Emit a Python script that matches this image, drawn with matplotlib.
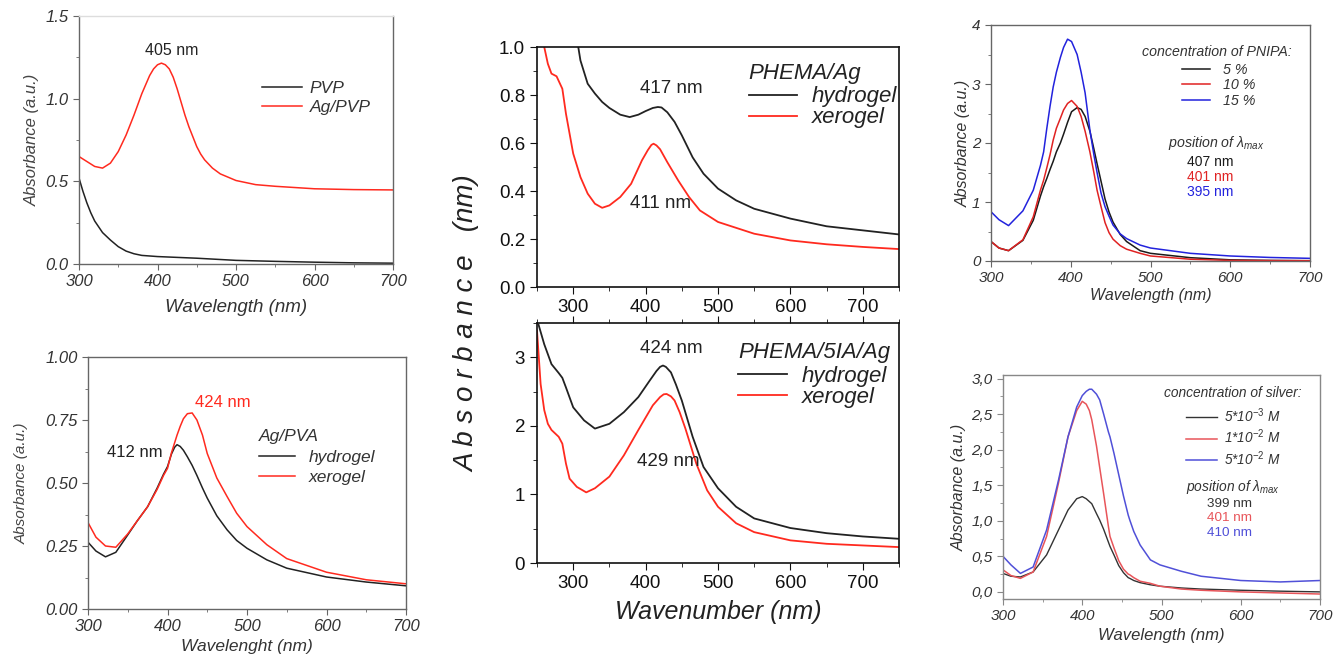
import numpy as np
import matplotlib
matplotlib.use("Agg")
import matplotlib.pyplot as plt
from matplotlib.ticker import MultipleLocator, FuncFormatter

plt.rcParams['font.family'] = ['Liberation Sans', 'DejaVu Sans']
plt.rcParams['mathtext.fontset'] = 'custom'
plt.rcParams['mathtext.it'] = 'Liberation Sans:italic'
plt.rcParams['mathtext.rm'] = 'Liberation Sans'

# ---------------- Panel A: PVP / Ag-PVP ----------------
pvp_wl = [300, 305, 310, 315, 320, 330, 340, 350, 360, 370, 380, 400, 425, 450, 500, 550, 600, 650, 700]
pvp_abs = [0.52, 0.44, 0.37, 0.31, 0.26, 0.19, 0.145, 0.105, 0.078, 0.062, 0.052, 0.045, 0.04, 0.035, 0.022, 0.016, 0.011, 0.007, 0.005]
agpvp_wl = [300, 310, 320, 330, 340, 350, 360, 370, 380, 390, 395, 400, 405, 410, 415, 420, 425, 430, 435, 440, 445, 450, 455, 460, 470, 480, 500, 525, 550, 600, 650, 700]
agpvp_abs = [0.65, 0.62, 0.59, 0.58, 0.61, 0.68, 0.78, 0.90, 1.03, 1.14, 1.18, 1.205, 1.215, 1.205, 1.18, 1.13, 1.06, 0.98, 0.90, 0.83, 0.77, 0.71, 0.665, 0.63, 0.58, 0.545, 0.505, 0.48, 0.47, 0.455, 0.45, 0.448]

# ---------------- Panel B: Ag/PVA ----------------
pva_wl = [300, 310, 322, 335, 350, 362, 375, 387, 395, 400, 405, 409, 412, 416, 420, 425, 431, 437, 444, 450, 462, 475, 487, 500, 525, 550, 600, 650, 700]
pva_hydro = [0.265, 0.23, 0.207, 0.225, 0.294, 0.35, 0.406, 0.48, 0.535, 0.565, 0.615, 0.642, 0.652, 0.645, 0.63, 0.604, 0.57, 0.53, 0.48, 0.44, 0.37, 0.314, 0.272, 0.241, 0.195, 0.162, 0.127, 0.107, 0.092]
pva_xero = [0.343, 0.285, 0.25, 0.245, 0.298, 0.35, 0.406, 0.475, 0.53, 0.558, 0.62, 0.66, 0.69, 0.725, 0.755, 0.775, 0.778, 0.75, 0.69, 0.617, 0.52, 0.446, 0.38, 0.327, 0.255, 0.2, 0.146, 0.116, 0.10]

# ---------------- Panel C: PNIPA ----------------
pn_wl = [300, 310, 322, 340, 353, 362, 366, 370, 374, 378, 382, 387, 391, 396, 401, 408, 413, 418, 424, 429, 433, 438, 443, 448, 453, 462, 470, 487, 500, 550, 600, 650, 700]
pn_5 = [0.33, 0.22, 0.175, 0.35, 0.69, 1.1, 1.26, 1.4, 1.55, 1.69, 1.85, 2.0, 2.15, 2.35, 2.53, 2.6, 2.57, 2.45, 2.2, 1.9, 1.65, 1.35, 1.05, 0.83, 0.66, 0.45, 0.33, 0.175, 0.13, 0.056, 0.02, 0.01, 0.005]
pn_10 = [0.33, 0.22, 0.175, 0.36, 0.75, 1.2, 1.37, 1.58, 1.8, 2.05, 2.25, 2.42, 2.56, 2.67, 2.72, 2.62, 2.45, 2.2, 1.85, 1.5, 1.2, 0.92, 0.65, 0.48, 0.37, 0.26, 0.2, 0.13, 0.085, 0.03, 0.01, 0.007, 0.005]
pn_15 = [0.835, 0.7, 0.6, 0.85, 1.2, 1.62, 1.85, 2.25, 2.62, 2.95, 3.2, 3.45, 3.62, 3.76, 3.72, 3.5, 3.2, 2.85, 2.22, 1.8, 1.5, 1.15, 0.92, 0.76, 0.61, 0.46, 0.38, 0.27, 0.22, 0.13, 0.085, 0.06, 0.045]

# ---------------- Panel D: silver concentration ----------------
ag_wl = [300, 310, 322, 338, 355, 370, 382, 393, 400, 405, 409, 412, 418, 422, 427, 433, 435, 440, 446, 452, 458, 460, 465, 473, 486, 498, 525, 550, 600, 650, 700]
ag_5e3 = [0.26, 0.22, 0.21, 0.28, 0.52, 0.87, 1.15, 1.31, 1.34, 1.31, 1.27, 1.24, 1.1, 1.01, 0.88, 0.7, 0.64, 0.52, 0.37, 0.27, 0.2, 0.19, 0.16, 0.13, 0.1, 0.08, 0.055, 0.04, 0.023, 0.01, 0.0]
ag_1e2 = [0.31, 0.23, 0.19, 0.28, 0.78, 1.53, 2.18, 2.55, 2.68, 2.64, 2.55, 2.42, 2.05, 1.75, 1.38, 0.92, 0.78, 0.62, 0.44, 0.32, 0.25, 0.24, 0.2, 0.15, 0.12, 0.08, 0.04, 0.023, 0.0, -0.015, -0.03]
ag_5e2 = [0.5, 0.38, 0.26, 0.35, 0.87, 1.57, 2.18, 2.6, 2.76, 2.82, 2.85, 2.85, 2.78, 2.7, 2.5, 2.25, 2.18, 1.95, 1.65, 1.35, 1.08, 1.01, 0.85, 0.66, 0.45, 0.38, 0.29, 0.22, 0.16, 0.14, 0.16]

# ---------------- Panel E: PHEMA/Ag ----------------
ph_wl_h = [307, 310, 320, 330, 340, 350, 365, 378, 390, 400, 410, 417, 422, 430, 440, 450, 465, 480, 500, 525, 550, 600, 650, 700, 750]
ph_hydro = [1.0, 0.944, 0.847, 0.806, 0.771, 0.746, 0.718, 0.708, 0.718, 0.733, 0.746, 0.75, 0.748, 0.728, 0.688, 0.632, 0.54, 0.472, 0.41, 0.361, 0.326, 0.285, 0.253, 0.236, 0.219]
ph_wl_x = [260, 265, 270, 277, 285, 290, 300, 310, 320, 330, 340, 350, 365, 380, 395, 403, 408, 411, 415, 420, 430, 445, 460, 475, 500, 550, 600, 650, 700, 750]
ph_xero = [1.0, 0.93, 0.889, 0.878, 0.826, 0.722, 0.556, 0.458, 0.389, 0.347, 0.33, 0.34, 0.375, 0.43, 0.528, 0.57, 0.592, 0.597, 0.59, 0.574, 0.52, 0.444, 0.375, 0.319, 0.271, 0.222, 0.194, 0.178, 0.167, 0.158]

# ---------------- Panel F: PHEMA/5IA/Ag ----------------
pi_wl_h = [252, 260, 270, 280, 285, 290, 300, 315, 330, 350, 370, 390, 405, 415, 420, 424, 428, 435, 442, 450, 465, 480, 500, 525, 550, 600, 650, 700, 750]
pi_hydro = [3.48, 3.19, 2.9, 2.77, 2.7, 2.56, 2.27, 2.08, 1.96, 2.03, 2.2, 2.42, 2.65, 2.8, 2.86, 2.88, 2.86, 2.78, 2.6, 2.37, 1.84, 1.40, 1.09, 0.82, 0.65, 0.51, 0.435, 0.387, 0.353]
pi_wl_x = [250, 255, 260, 265, 270, 280, 285, 290, 295, 305, 318, 330, 350, 370, 390, 410, 420, 425, 429, 435, 440, 447, 455, 470, 485, 500, 525, 550, 600, 650, 700, 750]
pi_xero = [3.39, 2.61, 2.23, 2.03, 1.94, 1.84, 1.74, 1.45, 1.23, 1.11, 1.03, 1.09, 1.26, 1.57, 1.94, 2.30, 2.42, 2.46, 2.465, 2.43, 2.37, 2.2, 1.96, 1.45, 1.06, 0.82, 0.58, 0.45, 0.33, 0.28, 0.256, 0.232]

W, H = 1334, 658
fig = plt.figure(figsize=(W / 100, H / 100), dpi=100)


def ax_px(x0, y0, x1, y1):
    return fig.add_axes([x0 / W, 1 - y1 / H, (x1 - x0) / W, (y1 - y0) / H])


def style_side(ax, spine_col='#666666', lab_col='#333333', fs=11.5):
    for s in ax.spines.values():
        s.set_color(spine_col)
        s.set_linewidth(1.0)
    ax.tick_params(which='both', direction='out', colors=spine_col, labelcolor=lab_col,
                   labelsize=fs, top=False, right=False)
    ax.tick_params(which='major', length=4)
    ax.tick_params(which='minor', length=2.5)
    for lab in ax.get_xticklabels() + ax.get_yticklabels():
        lab.set_fontstyle('italic')


RED = '#ff2a1f'
BLK = '#222222'

# ===== Panel A =====
axA = ax_px(79, 16, 393, 264)
axA.plot(pvp_wl, pvp_abs, color=BLK, lw=1.1, label='PVP')
axA.plot(agpvp_wl, agpvp_abs, color=RED, lw=1.1, label='Ag/PVP')
axA.set_xlim(300, 700)
axA.set_ylim(0, 1.5)
axA.xaxis.set_major_locator(MultipleLocator(100))
axA.xaxis.set_minor_locator(MultipleLocator(50))
axA.yaxis.set_major_locator(MultipleLocator(0.5))
axA.yaxis.set_minor_locator(MultipleLocator(0.25))
axA.yaxis.set_major_formatter(FuncFormatter(lambda v, p: f"{v:.1f}"))
style_side(axA, fs=12)
axA.spines['top'].set_color('#dddddd')
axA.set_xlabel('Wavelength (nm)', fontstyle='italic', fontsize=13.5, color='#333333', labelpad=7)
axA.set_ylabel('Absorbance (a.u.)', fontstyle='italic', fontsize=12, color='#444444', labelpad=4)
axA.text(418, 1.29, '405 nm', ha='center', va='center', fontsize=11.5, color='#222222')
axA.legend(loc='upper left', bbox_to_anchor=(0.56, 0.765), frameon=False,
           prop={'style': 'italic', 'size': 12.5}, handlelength=2.3, labelspacing=0.2,
           handletextpad=0.45, borderaxespad=0, labelcolor='#333333')

# ===== Panel B =====
axB = ax_px(88, 357, 406, 609)
axB.plot(pva_wl, pva_hydro, color=BLK, lw=1.1, label='hydrogel')
axB.plot(pva_wl, pva_xero, color=RED, lw=1.1, label='xerogel')
axB.set_xlim(300, 700)
axB.set_ylim(0, 1.0)
axB.xaxis.set_major_locator(MultipleLocator(100))
axB.xaxis.set_minor_locator(MultipleLocator(50))
axB.yaxis.set_major_locator(MultipleLocator(0.25))
axB.yaxis.set_minor_locator(MultipleLocator(0.125))
axB.yaxis.set_major_formatter(FuncFormatter(lambda v, p: f"{v:.2f}"))
style_side(axB, fs=12)
axB.set_xlabel('Wavelenght (nm)', fontstyle='italic', fontsize=12.5, color='#333333', labelpad=3)
axB.set_ylabel('Absorbance (a.u.)', fontstyle='italic', fontsize=11, color='#444444', labelpad=12)
axB.text(469, 0.818, '424 nm', ha='center', va='center', fontsize=12, color=RED)
axB.text(359, 0.623, '412 nm', ha='center', va='center', fontsize=12, color='#222222')
legB = axB.legend(loc='upper left', bbox_to_anchor=(0.515, 0.74), frameon=False,
                  prop={'style': 'italic', 'size': 12.5}, handlelength=2.1, labelspacing=0.3,
                  handletextpad=0.8, borderaxespad=0, labelcolor='#333333',
                  title='Ag/PVA', title_fontproperties={'style': 'italic', 'size': 12.5})
legB._legend_box.align = 'left'
legB.get_title().set_color('#333333')

# ===== Panel C =====
axC = ax_px(991, 25, 1310, 261)
axC.plot(pn_wl, pn_5, color='#1a1a1a', lw=1.1, label='5 %')
axC.plot(pn_wl, pn_10, color='#e02222', lw=1.1, label='10 %')
axC.plot(pn_wl, pn_15, color='#2222dd', lw=1.1, label='15 %')
axC.set_xlim(300, 700)
axC.set_ylim(0, 4)
axC.xaxis.set_major_locator(MultipleLocator(100))
axC.xaxis.set_minor_locator(MultipleLocator(50))
axC.yaxis.set_major_locator(MultipleLocator(1))
axC.yaxis.set_minor_locator(MultipleLocator(0.5))
style_side(axC, fs=11)
axC.set_xlabel('Wavelength (nm)', fontstyle='italic', fontsize=11.5, color='#333333', labelpad=2)
axC.set_ylabel('Absorbance (a.u.)', fontstyle='italic', fontsize=11.5, color='#333333', labelpad=1)
tr = axC.transAxes
axC.text(0.943, 0.887, 'concentration of PNIPA:', transform=tr, ha='right', va='center',
         fontsize=10.2, fontstyle='italic', color='#333333')
axC.legend(loc='upper left', bbox_to_anchor=(0.58, 0.862), frameon=False,
           prop={'style': 'italic', 'size': 10.3}, handlelength=2.0, labelspacing=0.08,
           handletextpad=0.9, borderaxespad=0, labelcolor='#333333')
axC.text(0.554, 0.501, r'position of $\lambda_{max}$', transform=tr, ha='left', va='center',
         fontsize=10.2, fontstyle='italic', color='#333333')
for yy, t, c in [(0.421, '407 nm', '#1a1a1a'), (0.357, '401 nm', '#e02222'), (0.294, '395 nm', '#2222dd')]:
    axC.text(0.615, yy, t, transform=tr, ha='left', va='center', fontsize=10, color=c)

# ===== Panel D =====
axD = ax_px(1003, 375, 1320, 599)
axD.plot(ag_wl, ag_5e3, color='#333333', lw=1.0, label=r'5*10$^{-3}$ M')
axD.plot(ag_wl, ag_1e2, color='#e8555a', lw=1.1, label=r'1*10$^{-2}$ M')
axD.plot(ag_wl, ag_5e2, color='#5050d8', lw=1.1, label=r'5*10$^{-2}$ M')
axD.set_xlim(300, 700)
axD.set_ylim(-0.1, 3.05)
axD.xaxis.set_major_locator(MultipleLocator(100))
axD.xaxis.set_minor_locator(MultipleLocator(50))
axD.yaxis.set_major_locator(MultipleLocator(0.5))
axD.yaxis.set_minor_locator(MultipleLocator(0.25))
axD.yaxis.set_major_formatter(FuncFormatter(lambda v, p: f"{v:.1f}".replace('.', ',')))
style_side(axD, spine_col='#888888', lab_col='#333333', fs=11)
axD.set_xlabel('Wavelength (nm)', fontstyle='italic', fontsize=12, color='#333333', labelpad=3)
axD.set_ylabel('Absorbance (a.u.)', fontstyle='italic', fontsize=11.5, color='#333333', labelpad=3)
tr = axD.transAxes
axD.text(0.942, 0.918, 'concentration of silver:', transform=tr, ha='right', va='center',
         fontsize=9.9, fontstyle='italic', color='#333333')
axD.legend(loc='upper left', bbox_to_anchor=(0.56, 0.885), frameon=False,
           prop={'style': 'italic', 'size': 9.8}, handlelength=2.3, labelspacing=0.22,
           handletextpad=0.5, borderaxespad=0, labelcolor='#333333')
axD.text(0.577, 0.502, r'position of $\lambda_{max}$', transform=tr, ha='left', va='center',
         fontsize=9.9, fontstyle='italic', color='#333333')
for yy, t, c in [(0.425, '399 nm', '#333333'), (0.361, '401 nm', '#e8555a'), (0.294, '410 nm', '#5050d8')]:
    axD.text(0.642, yy, t, transform=tr, ha='left', va='center', fontsize=9.7, color=c)

# ===== Panel E & F (middle) =====
def style_mid(ax):
    for s in ax.spines.values():
        s.set_color('#111111')
        s.set_linewidth(1.2)
    ax.tick_params(which='both', direction='out', colors='#111111', labelsize=13.5, right=False)
    ax.tick_params(which='major', length=5)
    ax.tick_params(which='minor', length=3)
    ax.xaxis.set_major_locator(MultipleLocator(100))
    ax.xaxis.set_minor_locator(MultipleLocator(50))


axE = ax_px(537, 47, 899, 287)
axE.plot(ph_wl_h, ph_hydro, color=BLK, lw=1.3, label='hydrogel')
axE.plot(ph_wl_x, ph_xero, color=RED, lw=1.3, label='xerogel')
axE.set_xlim(250, 750)
axE.set_ylim(0, 1.0)
style_mid(axE)
axE.yaxis.set_major_locator(MultipleLocator(0.2))
axE.yaxis.set_minor_locator(MultipleLocator(0.1))
axE.yaxis.set_major_formatter(FuncFormatter(lambda v, p: f"{v:.1f}"))
axE.text(435, 0.826, '417 nm', ha='center', va='center', fontsize=13.5, color='#222222')
axE.text(421, 0.35, '411 nm', ha='center', va='center', fontsize=13.5, color='#222222')
legE = axE.legend(loc='upper left', bbox_to_anchor=(0.56, 0.972), frameon=False,
                  prop={'style': 'italic', 'size': 16}, handlelength=2.2, labelspacing=0.0,
                  handletextpad=0.65, borderaxespad=0, labelcolor='#222222',
                  title='PHEMA/Ag', title_fontproperties={'style': 'italic', 'size': 16})
legE._legend_box.align = 'left'
legE._legend_box.sep = 2
legE.get_title().set_color('#222222')

axF = ax_px(537, 323, 899, 563)
axF.plot(pi_wl_h, pi_hydro, color=BLK, lw=1.3, label='hydrogel')
axF.plot(pi_wl_x, pi_xero, color=RED, lw=1.3, label='xerogel')
axF.set_xlim(250, 750)
axF.set_ylim(0, 3.5)
style_mid(axF)
axF.tick_params(which='both', top=True)
axF.yaxis.set_major_locator(MultipleLocator(1))
axF.yaxis.set_minor_locator(MultipleLocator(0.5))
axF.text(436, 3.13, '424 nm', ha='center', va='center', fontsize=13.5, color='#222222')
axF.text(431, 1.475, '429 nm', ha='center', va='center', fontsize=13.5, color='#222222')
legF = axF.legend(loc='upper left', bbox_to_anchor=(0.532, 0.958), frameon=False,
                  prop={'style': 'italic', 'size': 16}, handlelength=2.2, labelspacing=0.0,
                  handletextpad=0.65, borderaxespad=0, labelcolor='#222222',
                  title='PHEMA/5IA/Ag', title_fontproperties={'style': 'italic', 'size': 16})
legF._legend_box.align = 'left'
legF._legend_box.sep = 2
legF.get_title().set_color('#222222')

fig.text(467 / W, 1 - 324 / H, 'A b s o r b a n c e   (nm)', rotation=90, ha='center', va='center',
         fontsize=20, fontstyle='italic', color='#222222')
fig.text(718 / W, 1 - 612 / H, 'Wavenumber (nm)', ha='center', va='center',
         fontsize=18, fontstyle='italic', color='#222222')

fig.savefig('out.png', dpi=100, facecolor='white')
